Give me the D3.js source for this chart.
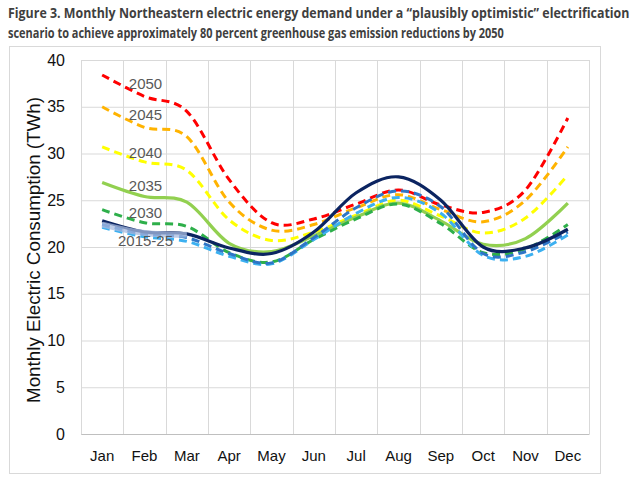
<!DOCTYPE html>
<html><head><meta charset="utf-8">
<script src="https://cdn.jsdelivr.net/npm/d3@7"></script>
<style>body{margin:0;background:#fff}svg{display:block}</style>
</head><body>
<svg id="c" width="640" height="483"></svg>
<script>
const months = ["Jan","Feb","Mar","Apr","May","Jun","Jul","Aug","Sep","Oct","Nov","Dec"];
const yTicks = [0,5,10,15,20,25,30,35,40];
const titleLines = ["Figure 3. Monthly Northeastern electric energy demand under a \u201cplausibly optimistic\u201d electrification",
                    "scenario to achieve approximately 80 percent greenhouse gas emission reductions by 2050"];
const yTitle = "Monthly Electric Consumption (TWh)";

const v2050 = [38.4, 36.1, 34.5, 27.2, 22.6, 23.0, 24.6, 26.1, 24.5, 23.7, 26.1, 33.8];
const v2045 = [35.0, 32.8, 31.8, 24.8, 21.8, 22.4, 24.2, 25.6, 24.0, 22.7, 25.0, 30.7];
const v2040 = [30.7, 29.1, 28.2, 22.9, 20.7, 21.6, 23.4, 25.0, 23.3, 21.5, 23.1, 27.7];
const v2035 = [26.9, 25.4, 24.8, 20.4, 19.5, 21.2, 23.2, 24.7, 22.8, 20.3, 20.9, 24.7];
const v2030 = [24.0, 22.6, 22.2, 19.4, 18.4, 20.8, 23.0, 24.6, 22.5, 19.4, 19.8, 22.4];
const v2015 = [22.8, 21.6, 21.4, 19.9, 19.3, 21.6, 25.8, 27.5, 25.0, 20.0, 19.9, 21.9];
const v2020 = [22.4, 21.4, 21.0, 19.3, 18.3, 21.0, 24.2, 26.0, 24.3, 19.3, 19.5, 21.6];
const v2025 = [22.1, 21.1, 20.6, 19.0, 18.2, 20.8, 23.6, 25.3, 23.6, 19.1, 19.0, 21.3];
const vBand = [22.4, 21.5, 21.3];

const seriesLabels = [
  {text:"2050", month:"Feb", value:37.4},
  {text:"2045", month:"Feb", value:34.1},
  {text:"2040", month:"Feb", value:30.1},
  {text:"2035", month:"Feb", value:26.5},
  {text:"2030", month:"Feb", value:23.6},
  {text:"2015-25", month:"Feb", value:20.6}
];

const series = [
  {vals:v2050, color:"#FF0000", dash:"8,5", w:3},
  {vals:v2045, color:"#FFB300", dash:"8,5", w:3},
  {vals:v2040, color:"#FFFF00", dash:"8,5", w:3},
  {vals:v2035, color:"#92D050", dash:null, w:3.2},
  {vals:v2030, color:"#2EAF4A", dash:"8,5", w:3},
  {vals:v2025, color:"#3CB0F0", dash:"8,5", w:3},
  {vals:v2020, color:"#2E75C6", dash:"8,5", w:3},
  {vals:v2015, color:"#0B2461", dash:null, w:3.2}
];

const svg = d3.select("#c");
const L = 81, R = 589, T = 60, B = 434;

svg.append("rect").attr("x",9.5).attr("y",46.5).attr("width",591).attr("height",427)
  .attr("fill","none").attr("stroke","#D9D9D9");

// title, condensed horizontally to the reference's widths
const titleWidths = [622, 496];
svg.selectAll("text.title").data(titleLines).join("text")
  .attr("class","title")
  .attr("font-family","Open Sans, sans-serif").attr("font-weight","bold")
  .attr("font-size",14.5).attr("fill","#3F3F3F")
  .text(d=>d)
  .each(function(d,i){
    const w = this.getComputedTextLength();
    const k = titleWidths[i] / w;
    d3.select(this).attr("transform",`translate(8,${18+i*20}) scale(${k},1)`);
  });

const x = d3.scaleBand().domain(months).range([L,R]).padding(0);
const y = d3.scaleLinear().domain([0,40]).range([B,T]);

// gridlines
const g = svg.append("g");
g.selectAll("line.h").data(yTicks).join("line")
  .attr("x1",L).attr("x2",R).attr("y1",d=>y(d)+0.5).attr("y2",d=>y(d)+0.5)
  .attr("stroke","#D9D9D9").attr("stroke-width",1);
const vEdges = months.map(m=>x(m)).concat([R]);
g.selectAll("line.v").data(vEdges).join("line")
  .attr("x1",d=>Math.round(d)+0.5).attr("x2",d=>Math.round(d)+0.5).attr("y1",T).attr("y2",B)
  .attr("stroke","#D9D9D9").attr("stroke-width",1);

// axes
const yAxis = d3.axisLeft(y).tickValues(yTicks).tickSize(0).tickPadding(16);
const ya = svg.append("g").attr("transform",`translate(${L},0)`).call(yAxis);
ya.select(".domain").remove();
ya.selectAll("text").attr("font-family","Liberation Sans, Arial, sans-serif").attr("font-size",16).attr("fill","#111");

const xAxis = d3.axisBottom(x).tickSize(0).tickPadding(16);
const xa = svg.append("g").attr("transform",`translate(0,${B})`).call(xAxis);
xa.select(".domain").attr("stroke","#BFBFBF");
xa.selectAll("text").attr("font-family","Liberation Sans, Arial, sans-serif").attr("font-size",15).attr("fill","#111");

svg.append("text").attr("transform",`translate(40,${(T+B)/2+3}) rotate(-90)`)
  .attr("text-anchor","middle").attr("font-family","Liberation Sans, Arial, sans-serif")
  .attr("font-size",18).attr("fill","#111")
  .attr("textLength",306).attr("lengthAdjust","spacingAndGlyphs")
  .text(yTitle);

const cx = m => x(m) + x.bandwidth()/2;
const line = d3.line().x((d,i)=>cx(months[i])).y(d=>y(d)).curve(d3.curveCardinal.tension(0));

series.forEach(s=>{
  svg.append("path").attr("d",line(s.vals)).attr("fill","none")
    .attr("stroke",s.color).attr("stroke-width",s.w)
    .attr("stroke-dasharray",s.dash).attr("stroke-linecap","butt");
});
svg.append("path").attr("d",line(vBand)).attr("fill","none")
  .attr("stroke","#A8BBDF").attr("stroke-width",6).attr("opacity",0.75);

svg.selectAll("text.lab").data(seriesLabels).join("text")
  .attr("x",d=>cx(d.month)+1).attr("y",d=>y(d.value)+5)
  .attr("text-anchor","middle").attr("font-family","Liberation Sans, Arial, sans-serif")
  .attr("font-size",15).attr("fill","#595959").text(d=>d.text);
</script>
</body></html>
